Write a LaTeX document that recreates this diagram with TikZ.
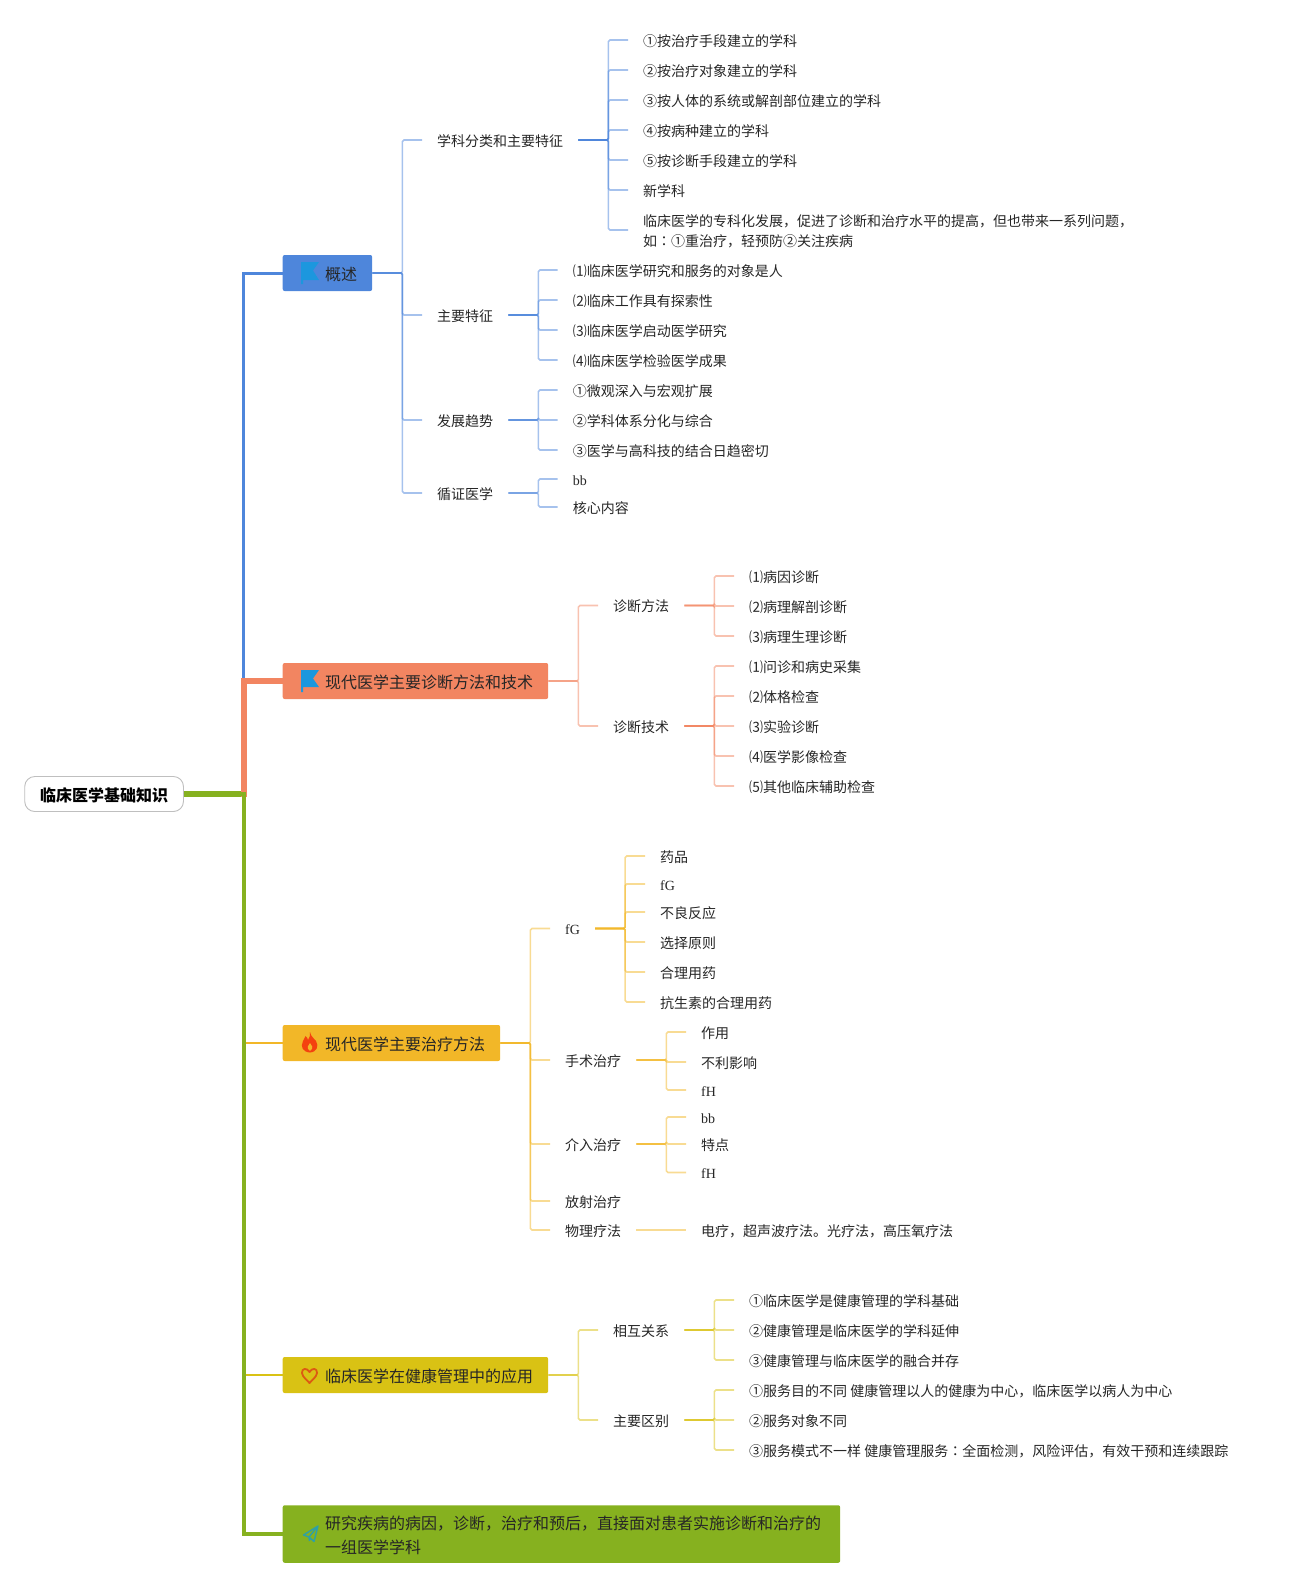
\documentclass[tikz,border=0pt]{standalone}
\usepackage{fontspec}
\setmainfont{Noto Sans CJK SC}
\newfontfamily\latinfont{Liberation Serif}
\newfontfamily\tcfont{Noto Sans CJK TC}
\usepackage{tikz}
\usetikzlibrary{positioning}
\definecolor{bluec}{HTML}{4E86DB}
\definecolor{orangec}{HTML}{F28561}
\definecolor{yellowc}{HTML}{F2B728}
\definecolor{healthc}{HTML}{D9C214}
\definecolor{greenc}{HTML}{86B11F}
\definecolor{inkc}{HTML}{262626}
\definecolor{flagc}{HTML}{1C97DE}
\definecolor{flamec}{HTML}{F4420F}
\definecolor{heartc}{HTML}{DC5A12}
\definecolor{planec}{HTML}{2EA0A6}

\begin{document}
\begin{tikzpicture}[
  x=1pt, y=-1pt,
  root/.style={draw=black!25, fill=white, rectangle, rounded corners=10pt, line width=0.9pt, anchor=west,
    minimum width=158.7pt, minimum height=35pt, inner xsep=0pt, inner ysep=0pt, text=black,
    text height=15pt, text depth=1pt, font=\fontsize{16}{20}\selectfont\bfseries},
  topic/.style={rectangle, rounded corners=2pt, anchor=west, minimum height=36pt, inner xsep=15pt, inner ysep=0pt,
    text height=15pt, text depth=1pt, align=left, text=inkc, font=\fontsize{16}{24}\selectfont},
  leaf/.style={anchor=west, inner xsep=15pt, inner ysep=0pt, text height=13pt, text depth=1pt,
    align=left, text=inkc, font=\fontsize{14}{20}\selectfont},
  trunk/.style={line width=#1},
  link/.style={line width=1.6pt, draw opacity=0.5, rounded corners=1.5pt}
]
  \useasboundingbox (0,0) rectangle (1289,1588);

  % main topics
  \node[root] (Root) at (24.3,794) {临床医学基础知识};
  \node[topic, fill=bluec] (Over) at (282.5,273) {\hspace*{27.5pt}概述};
  \node[topic, fill=orangec] (Diag) at (282.5,681) {\hspace*{27.5pt}现代医学主要诊断方法和技术};
  \node[topic, fill=yellowc] (Treat) at (282.5,1043) {\hspace*{27.5pt}现代医学主要治疗方法};
  \node[topic, fill=healthc] (Health) at (282.5,1375) {\hspace*{27.5pt}临床医学在健康管理中的应用};
  \node[topic, fill=greenc, minimum height=57.5pt, text height=39pt, text depth=1pt] (Def) at (282.5,1534)
    {\hspace*{27.5pt}研究疾病的病因，诊断，治疗和预后，直接面对患者实施诊断和治疗的\hspace*{4pt}\\\hspace*{27.5pt}一组医学学科};

  \draw[trunk=3pt, bluec] (Root.east) -- ++(60,0) |- (Over.west);
  \draw[trunk=2.5pt, yellowc] (Root.east) -- ++(60,0) |- (Treat.west);
  \draw[trunk=2pt, healthc] (Root.east) -- ++(60,0) |- (Health.west);
  \draw[trunk=5.5pt, orangec] (Root.east) -- ++(60,0) |- (Diag.west);
  \draw[trunk=4.5pt, greenc] (Root.east) -- ++(60,0) |- (Def.west);
  \draw[trunk=5.5pt, greenc] (Root.east) -- ++(57,0);

  % icons
  \fill[flagc] (301,262) -- (319,262) -- (313,270.5) -- (319,280) -- (303,280) -- (303,284) -- (301,284) -- cycle;
  \fill[flagc] (301,670) -- (319,670) -- (313,678.5) -- (319,687) -- (303,687) -- (303,692) -- (301,692) -- cycle;
  \fill[flamec] (310,1032) .. controls (311,1037) and (314,1038) .. (316,1041)
    .. controls (319,1046) and (317,1052) .. (310,1052.5)
    .. controls (303,1052) and (300,1047) .. (303,1041)
    .. controls (304,1039) and (305,1038) .. (305.5,1036)
    .. controls (307,1037) and (307.5,1038) .. (308,1040)
    .. controls (309.5,1038) and (310.5,1035) .. (310,1032) -- cycle;
  \fill[yellowc] (310,1043) .. controls (312,1045) and (314,1048) .. (310,1051)
    .. controls (306,1048) and (308,1045) .. (310,1043) -- cycle;
  \draw[heartc, line width=1.8pt, line join=round] (309.5,1372)
    .. controls (307,1367.5) and (301.5,1368) .. (302,1373)
    .. controls (302.5,1377) and (307,1380) .. (309.5,1383)
    .. controls (312,1380) and (316.5,1377) .. (317,1373)
    .. controls (317.5,1368) and (312,1367.5) .. (309.5,1372) -- cycle;
  \draw[planec, line width=1.4pt, line join=round] (318,1526) -- (303.5,1535) -- (309,1537) -- (314,1541.5) -- cycle
    (318,1526) -- (309,1537) -- (309.5,1541);

  % blue branch
  \node[leaf] (Fenlei) at (422,140) {学科分类和主要特征};
  \node[leaf] (Tezheng) at (422,315) {主要特征};
  \node[leaf] (Qushi) at (422,420) {发展趋势};
  \node[leaf] (Xunzheng) at (422,493) {循证医学};
  \draw[link, bluec] (Over.east) -- ++(30,0) |- (Fenlei.west);
  \draw[link, bluec] (Over.east) -- ++(30,0) |- (Tezheng.west);
  \draw[link, bluec] (Over.east) -- ++(30,0) |- (Qushi.west);
  \draw[link, bluec] (Over.east) -- ++(30,0) |- (Xunzheng.west);

  \node[leaf] (FenA) at (628,40) {①按治疗手段建立的学科};
  \node[leaf] (FenB) at (628,70) {②按治疗对象建立的学科};
  \node[leaf] (FenC) at (628,100) {③按人体的系统或解剖部位建立的学科};
  \node[leaf] (FenD) at (628,130) {④按病种建立的学科};
  \node[leaf] (FenE) at (628,160) {⑤按诊断手段建立的学科};
  \node[leaf] (FenF) at (628,190) {新学科};
  \node[leaf, text height=33pt, text depth=1pt] (FenG) at (628,230) {临床医学的专科化发展，促进了诊断和治疗水平的提高，但也带来一系列问题，\\如{\tcfont ：}①重治疗，轻预防②关注疾病};
  \draw[link, bluec] (Fenlei.east) -- ++(30,0) |- (FenA.west);
  \draw[link, bluec] (Fenlei.east) -- ++(30,0) |- (FenB.west);
  \draw[link, bluec] (Fenlei.east) -- ++(30,0) |- (FenC.west);
  \draw[link, bluec] (Fenlei.east) -- ++(30,0) |- (FenD.west);
  \draw[link, bluec] (Fenlei.east) -- ++(30,0) |- (FenE.west);
  \draw[link, bluec] (Fenlei.east) -- ++(30,0) |- (FenF.west);
  \draw[link, bluec] (Fenlei.east) -- ++(30,0) |- (FenG.west);

  \node[leaf] (TeA) at (557.7,270) {⑴临床医学研究和服务的对象是人};
  \node[leaf] (TeB) at (557.7,300) {⑵临床工作具有探索性};
  \node[leaf] (TeC) at (557.7,330) {⑶临床医学启动医学研究};
  \node[leaf] (TeD) at (557.7,360) {⑷临床医学检验医学成果};
  \draw[link, bluec] (Tezheng.east) -- ++(30,0) |- (TeA.west);
  \draw[link, bluec] (Tezheng.east) -- ++(30,0) |- (TeB.west);
  \draw[link, bluec] (Tezheng.east) -- ++(30,0) |- (TeC.west);
  \draw[link, bluec] (Tezheng.east) -- ++(30,0) |- (TeD.west);

  \node[leaf] (QuA) at (557.7,390) {①微观深入与宏观扩展};
  \node[leaf] (QuB) at (557.7,420) {②学科体系分化与综合};
  \node[leaf] (QuC) at (557.7,450) {③医学与高科技的结合日趋密切};
  \draw[link, bluec] (Qushi.east) -- ++(30,0) |- (QuA.west);
  \draw[link, bluec] (Qushi.east) -- ++(30,0) |- (QuB.west);
  \draw[link, bluec] (Qushi.east) -- ++(30,0) |- (QuC.west);

  \node[leaf] (XunA) at (557.7,479) {\latinfont bb};
  \node[leaf] (XunB) at (557.7,507) {核心内容};
  \draw[link, bluec] (Xunzheng.east) -- ++(30,0) |- (XunA.west);
  \draw[link, bluec] (Xunzheng.east) -- ++(30,0) |- (XunB.west);

  % orange branch
  \node[leaf] (Fangfa) at (598,605.5) {诊断方法};
  \node[leaf] (Jishu) at (598,726) {诊断技术};
  \draw[link, orangec] (Diag.east) -- ++(30,0) |- (Fangfa.west);
  \draw[link, orangec] (Diag.east) -- ++(30,0) |- (Jishu.west);

  \node[leaf] (FangA) at (734,576) {⑴病因诊断};
  \node[leaf] (FangB) at (734,606) {⑵病理解剖诊断};
  \node[leaf] (FangC) at (734,636) {⑶病理生理诊断};
  \draw[link, orangec] (Fangfa.east) -- ++(30,0) |- (FangA.west);
  \draw[link, orangec] (Fangfa.east) -- ++(30,0) |- (FangB.west);
  \draw[link, orangec] (Fangfa.east) -- ++(30,0) |- (FangC.west);

  \node[leaf] (JiA) at (734,666) {⑴问诊和病史采集};
  \node[leaf] (JiB) at (734,696) {⑵体格检查};
  \node[leaf] (JiC) at (734,726) {⑶实验诊断};
  \node[leaf] (JiD) at (734,756) {⑷医学影像检查};
  \node[leaf] (JiE) at (734,786) {⑸其他临床辅助检查};
  \draw[link, orangec] (Jishu.east) -- ++(30,0) |- (JiA.west);
  \draw[link, orangec] (Jishu.east) -- ++(30,0) |- (JiB.west);
  \draw[link, orangec] (Jishu.east) -- ++(30,0) |- (JiC.west);
  \draw[link, orangec] (Jishu.east) -- ++(30,0) |- (JiD.west);
  \draw[link, orangec] (Jishu.east) -- ++(30,0) |- (JiE.west);

  % yellow branch
  \node[leaf] (Yao) at (550,928.5) {\latinfont fG};
  \node[leaf] (Shoushu) at (550,1060) {手术治疗};
  \node[leaf] (Jieru) at (550,1144) {介入治疗};
  \node[leaf] (Fangshe) at (550,1201) {放射治疗};
  \node[leaf] (Wuli) at (550,1230) {物理疗法};
  \draw[link, yellowc] (Treat.east) -- ++(30,0) |- (Yao.west);
  \draw[link, yellowc] (Treat.east) -- ++(30,0) |- (Shoushu.west);
  \draw[link, yellowc] (Treat.east) -- ++(30,0) |- (Jieru.west);
  \draw[link, yellowc] (Treat.east) -- ++(30,0) |- (Fangshe.west);
  \draw[link, yellowc] (Treat.east) -- ++(30,0) |- (Wuli.west);

  \node[leaf] (YaoA) at (645,856) {药品};
  \node[leaf] (YaoB) at (645,884) {\latinfont fG};
  \node[leaf] (YaoC) at (645,912) {不良反应};
  \node[leaf] (YaoD) at (645,942) {选择原则};
  \node[leaf] (YaoE) at (645,972) {合理用药};
  \node[leaf] (YaoF) at (645,1002) {抗生素的合理用药};
  \draw[link, yellowc] (Yao.east) -- ++(30,0) |- (YaoA.west);
  \draw[link, yellowc] (Yao.east) -- ++(30,0) |- (YaoB.west);
  \draw[link, yellowc] (Yao.east) -- ++(30,0) |- (YaoC.west);
  \draw[link, yellowc] (Yao.east) -- ++(30,0) |- (YaoD.west);
  \draw[link, yellowc] (Yao.east) -- ++(30,0) |- (YaoE.west);
  \draw[link, yellowc] (Yao.east) -- ++(30,0) |- (YaoF.west);

  \node[leaf] (ShouA) at (686,1032) {作用};
  \node[leaf] (ShouB) at (686,1062) {不利影响};
  \node[leaf] (ShouC) at (686,1090) {\latinfont fH};
  \draw[link, yellowc] (Shoushu.east) -- ++(30,0) |- (ShouA.west);
  \draw[link, yellowc] (Shoushu.east) -- ++(30,0) |- (ShouB.west);
  \draw[link, yellowc] (Shoushu.east) -- ++(30,0) |- (ShouC.west);

  \node[leaf] (JieA) at (686,1117) {\latinfont bb};
  \node[leaf] (JieB) at (686,1144) {特点};
  \node[leaf] (JieC) at (686,1172.5) {\latinfont fH};
  \draw[link, yellowc] (Jieru.east) -- ++(30,0) |- (JieA.west);
  \draw[link, yellowc] (Jieru.east) -- ++(30,0) |- (JieB.west);
  \draw[link, yellowc] (Jieru.east) -- ++(30,0) |- (JieC.west);

  \node[leaf] (WuA) at (686,1230) {电疗，超声波疗法。光疗法，高压氧疗法};
  \draw[link, yellowc] (Wuli.east) -- (WuA.west);

  % health branch
  \node[leaf] (Guanxi) at (598,1330) {相互关系};
  \node[leaf] (Qubie) at (598,1420) {主要区别};
  \draw[link, healthc] (Health.east) -- ++(30,0) |- (Guanxi.west);
  \draw[link, healthc] (Health.east) -- ++(30,0) |- (Qubie.west);

  \node[leaf] (GuanA) at (734,1300) {①临床医学是健康管理的学科基础};
  \node[leaf] (GuanB) at (734,1330) {②健康管理是临床医学的学科延伸};
  \node[leaf] (GuanC) at (734,1360) {③健康管理与临床医学的融合并存};
  \draw[link, healthc] (Guanxi.east) -- ++(30,0) |- (GuanA.west);
  \draw[link, healthc] (Guanxi.east) -- ++(30,0) |- (GuanB.west);
  \draw[link, healthc] (Guanxi.east) -- ++(30,0) |- (GuanC.west);

  \node[leaf] (QuBieA) at (734,1390) {①服务目的不同 健康管理以人的健康为中心，临床医学以病人为中心};
  \node[leaf] (QuBieB) at (734,1420) {②服务对象不同};
  \node[leaf] (QuBieC) at (734,1450) {③服务模式不一样 健康管理服务{\tcfont ：}全面检测，风险评估，有效干预和连续跟踪};
  \draw[link, healthc] (Qubie.east) -- ++(30,0) |- (QuBieA.west);
  \draw[link, healthc] (Qubie.east) -- ++(30,0) |- (QuBieB.west);
  \draw[link, healthc] (Qubie.east) -- ++(30,0) |- (QuBieC.west);
\end{tikzpicture}
\end{document}
